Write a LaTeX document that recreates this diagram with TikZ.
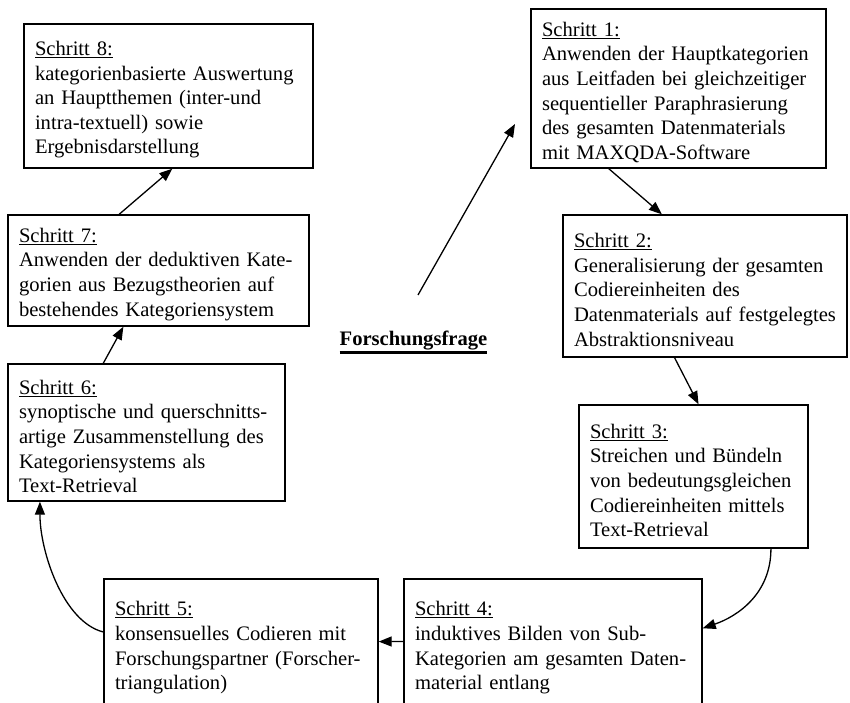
\documentclass[tikz,border=0pt]{standalone}
\usepackage{fontspec}
\setmainfont{Liberation Serif}
\usetikzlibrary{arrows.meta}

% thick rule under the central question
\newcommand{\fragestrich}[1]{\setbox0\hbox{#1}\rlap{\rule[-9pt]{\wd0}{2.8pt}}\box0}
% first line of every box, with a strut for the space on top
\newcommand{\schrittkopf}[1]{\rule{0pt}{22pt}\underline{Schritt #1:}}

\tikzset{
  schritt/.style={draw, line width=1.4pt, inner xsep=11pt, inner ysep=2pt, align=left,
    font=\fontsize{20.6}{24.6}\selectfont},
  pfeil/.style={-{Triangle[length=13pt,width=10pt]}, line width=1.3pt},
}

\begin{document}
\begin{tikzpicture}[x=1pt,y=-1pt]
\useasboundingbox (0,0) rectangle (850,702);

% name/center x/center y/width/height/text
\foreach \name/\cx/\cy/\breite/\hoehe/\inhalt in {
    s1/678.5/88.5/295/159/{\schrittkopf{1}\\Anwenden der Hauptkategorien\\aus Leitfaden bei gleichzeitiger\\sequentieller Paraphrasierung\\des gesamten Datenmaterials\\mit MAXQDA-Software},
    s2/705/286/284/142/{\schrittkopf{2}\\Generalisierung der gesamten\\Codiereinheiten des\\Datenmaterials auf festgelegtes\\Abstraktionsniveau},
    s3/693.5/476.5/229/143/{\schrittkopf{3}\\Streichen und Bündeln\\von bedeutungsgleichen\\Codiereinheiten mittels\\Text-Retrieval},
    s4/553/644/298/130/{\schrittkopf{4}\\induktives Bilden von Sub-\\Kategorien am gesamten Daten-\\material entlang},
    s5/241/644/274/130/{\schrittkopf{5}\\konsensuelles Codieren mit\\Forschungspartner (Forscher-\\triangulation)},
    s6/146.5/432.5/277/137/{\schrittkopf{6}\\synoptische und querschnitts-\\artige Zusammenstellung des\\Kategoriensystems als\\Text-Retrieval},
    s7/158.5/270.5/301/111/{\schrittkopf{7}\\Anwenden der deduktiven Kate-\\gorien aus Bezugstheorien auf\\bestehendes Kategoriensystem},
    s8/168.5/96/289/144/{\schrittkopf{8}\\kategorienbasierte Auswertung\\an Hauptthemen (inter-und\\intra-textuell) sowie\\Ergebnisdarstellung}}
{
    \pgfmathsetmacro\textbreite{\breite-22}
    \node[schritt, minimum width=\breite pt, minimum height=\hoehe pt, text width=\textbreite pt]
      (\name) at (\cx,\cy) {\inhalt};
}

\node[font=\fontsize{20.6}{24.6}\selectfont\bfseries, anchor=base] (frage) at (413.5,345)
  {\fragestrich{Forschungsfrage}};
\coordinate (fragespitze) at (515,124);
\draw[pfeil] ([xshift=4.5pt,yshift=32pt]frage.north) -- (fragespitze);

% straight steps
\foreach \von/\nach in {s1.229/s2.121, s2.247/s3.86, s4.179/s5.1, s6.122/s7.238, s7.125/s8.273}
  \draw[pfeil] (\von) -- (\nach);

% curved steps
\draw[pfeil] (s3.317) .. controls +(0,45) and +(35,-12) .. (s4.6);
\draw[pfeil] (s5.175) .. controls +(-40,-10) and +(0,50) .. (s6.213);

\end{tikzpicture}
\end{document}
